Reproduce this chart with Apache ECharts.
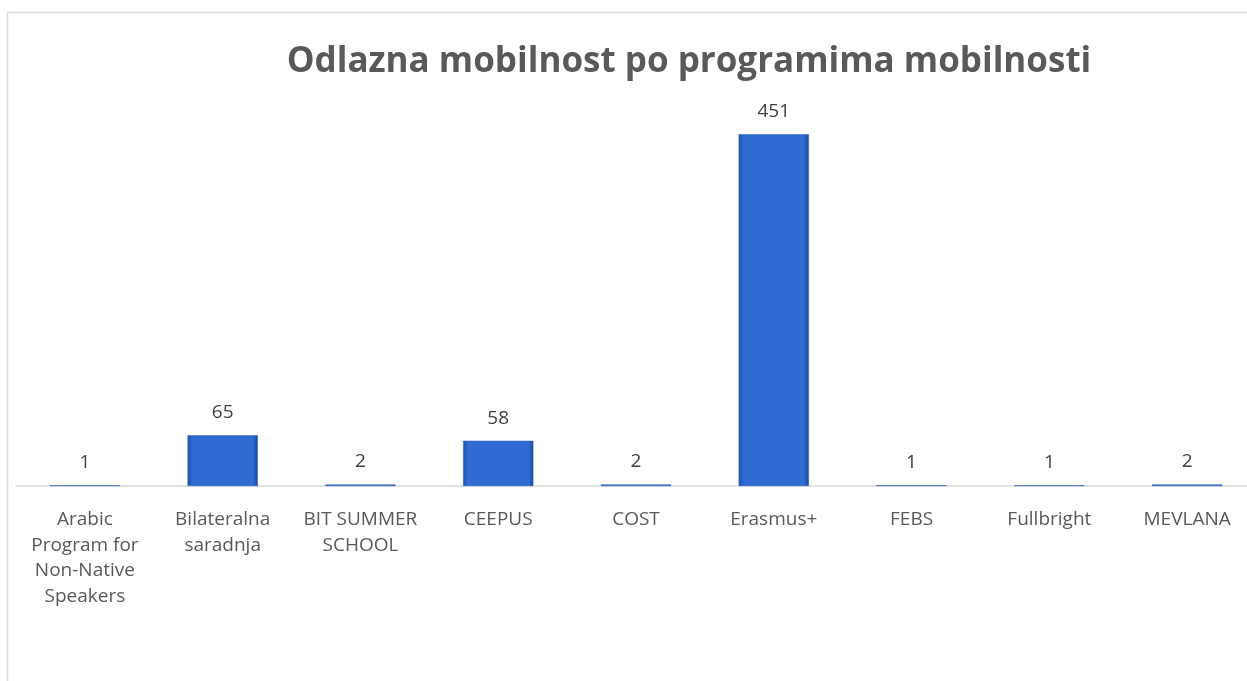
<!DOCTYPE html>
<html>
<head>
<meta charset="utf-8">
<script src="https://cdn.jsdelivr.net/npm/echarts@6/dist/echarts.min.js"></script>
<style>
html,body{margin:0;padding:0;background:#fff;}
#chart{width:1247px;height:681px;}
</style>
</head>
<body>
<div id="chart"></div>
<script>
const titleText = 'Odlazna mobilnost po programima mobilnosti';
const categories = [
  'Arabic\nProgram for\nNon-Native\nSpeakers',
  'Bilateralna\nsaradnja',
  'BIT SUMMER\nSCHOOL',
  'CEEPUS',
  'COST',
  'Erasmus+',
  'FEBS',
  'Fullbright',
  'MEVLANA'
];
const values = [1, 65, 2, 58, 2, 451, 1, 1, 2];

const chart = echarts.init(document.getElementById('chart'));
const fontFam = 'Open Sans, Lato, sans-serif';
chart.setOption({
  animation: false,
  backgroundColor: '#ffffff',
  graphic: [{
    type: 'rect',
    shape: {x: 7.5, y: 12.5, width: 1300, height: 700},
    style: {fill: 'none', stroke: '#d9d9d9', lineWidth: 1.5},
    silent: true
  }],
  title: {
    text: titleText,
    left: 684,
    textAlign: 'center',
    top: 40,
    textStyle: {fontFamily: fontFam, fontWeight: 'bold', fontSize: 35, color: '#595959'}
  },
  grid: {left: 16, width: 1240, top: 96, bottom: 195, containLabel: false, outerBoundsMode: 'none'},
  xAxis: {
    type: 'category',
    data: categories,
    axisLine: {show: true, lineStyle: {color: '#d9d9d9', width: 1.5}},
    axisTick: {show: false},
    axisLabel: {
      interval: 0,
      margin: 21,
      fontFamily: fontFam,
      fontSize: 19,
      lineHeight: 25.5,
      color: '#595959'
    }
  },
  yAxis: {
    type: 'value',
    min: 0,
    max: 500,
    show: false,
    splitLine: {show: false}
  },
  series: [{
    type: 'bar',
    data: values,
    barWidth: '51%',
    itemStyle: {
      color: new echarts.graphic.LinearGradient(0, 0, 1, 0, [
        {offset: 0, color: '#2250a6'},
        {offset: 0.07, color: '#2f6bd3'},
        {offset: 0.93, color: '#2f6bd3'},
        {offset: 1, color: '#1e479a'}
      ]),
      borderColor: '#2a5cb8',
      borderWidth: 0.5
    },
    label: {
      show: true,
      position: 'top',
      distance: 13,
      fontFamily: fontFam,
      fontSize: 19,
      color: '#404040'
    }
  }]
});
</script>
</body>
</html>
